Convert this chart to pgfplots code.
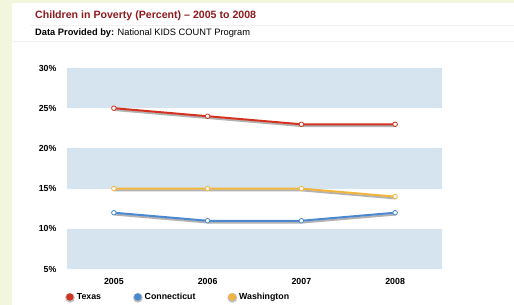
\documentclass[border=0pt]{standalone}
\usepackage{pgfplots}
\pgfplotsset{compat=1.18}
\usepackage{fontspec}
\setmainfont{Liberation Sans}
\definecolor{bgg}{HTML}{F2F6DC}
\definecolor{band}{HTML}{D6E4EF}
\definecolor{ttl}{HTML}{8E1B1F}
\definecolor{tx}{HTML}{D2321F}
\definecolor{ct}{HTML}{4A88CF}
\definecolor{wa}{HTML}{F2B43C}
\begin{document}
\begin{tikzpicture}
\path[use as bounding box] (0,0) rectangle (514pt,305pt);
\fill[bgg] (0,0) rectangle (514pt,305pt);
\fill[white] (12pt,0) rectangle (514pt,302pt);
\draw[gray!12, line width=0.8pt] (30pt,280pt) -- (514pt,280pt);
\draw[gray!12, line width=0.8pt] (12pt,264pt) -- (514pt,264pt);
\node[anchor=base west, inner sep=0, text=ttl, font=\bfseries\fontsize{10.6}{12}\selectfont] at (35pt,286pt) {Children in Poverty (Percent) -- 2005 to 2008};
\node[anchor=base west, inner sep=0, font=\fontsize{9.3}{10}\selectfont] at (35pt,269pt) {\textbf{Data Provided by:} National KIDS COUNT Program};
\begin{axis}[
  at={(67pt,36pt)}, anchor=south west,
  scale only axis, width=375pt, height=201pt,
  xmin=-0.5, xmax=3.5, ymin=5, ymax=30,
  axis line style={draw=none},
  major tick length=0pt,
  xtick={0,1,2,3}, xticklabels={2005,2006,2007,2008},
  ytick={5,10,15,20,25,30}, yticklabels={5\%,10\%,15\%,20\%,25\%,30\%},
  ticklabel style={font=\bfseries\fontsize{8.8}{9}\selectfont},
  yticklabel style={xshift=-7pt},
  xticklabel style={yshift=-5.5pt},
  clip=false,
  legend columns=3,
  legend style={at={(axis description cs:0,0)}, anchor=west, xshift=-2pt, yshift=-28pt,
    draw=none, fill=none, inner sep=0pt,
    font=\bfseries\fontsize{8.8}{9}\selectfont,
    /tikz/every even column/.append style={column sep=30pt},
    /tikz/every odd column/.append style={column sep=0pt}},
  legend image code/.code={\fill[gray!50] (0.15pt,-0.8pt) circle (3.8pt); \fill[#1, draw=none] (0,0) circle (3.7pt);},
]
\fill[band] (axis cs:-0.5,25) rectangle (axis cs:3.5,30);
\fill[band] (axis cs:-0.5,15) rectangle (axis cs:3.5,20);
\fill[band] (axis cs:-0.5,5) rectangle (axis cs:3.5,10);
% shadows
\addplot[gray!60, line width=2pt, shift={(0.6pt,-1.8pt)}, forget plot] coordinates {(0,25) (1,24) (2,23) (3,23)};
\addplot[gray!60, line width=2pt, shift={(0.6pt,-1.8pt)}, forget plot] coordinates {(0,12) (1,11) (2,11) (3,12)};
\addplot[gray!60, line width=2pt, shift={(0.6pt,-1.8pt)}, forget plot] coordinates {(0,15) (1,15) (2,15) (3,14)};
% series
\addplot[tx, line width=2pt, mark=*, mark size=2.3pt, mark options={fill=white, draw=tx, line width=0.8pt}] coordinates {(0,25) (1,24) (2,23) (3,23)};
\addlegendentry{Texas}
\addplot[ct, line width=2pt, mark=*, mark size=2.3pt, mark options={fill=white, draw=ct, line width=0.8pt}] coordinates {(0,12) (1,11) (2,11) (3,12)};
\addlegendentry{Connecticut}
\addplot[wa, line width=2pt, mark=*, mark size=2.3pt, mark options={fill=white, draw=wa, line width=0.8pt}] coordinates {(0,15) (1,15) (2,15) (3,14)};
\addlegendentry{Washington}
\end{axis}
\end{tikzpicture}
\end{document}
